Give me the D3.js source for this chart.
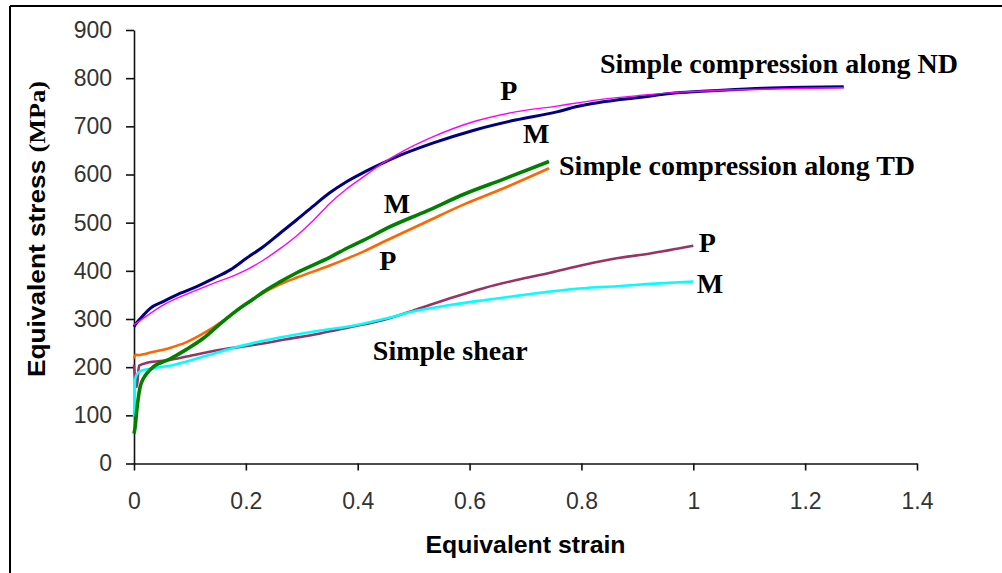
<!DOCTYPE html>
<html>
<head>
<meta charset="utf-8">
<script src="https://cdn.jsdelivr.net/npm/d3@7"></script>
<style>
  body { margin: 0; background: #fff; }
  svg { display: block; }
</style>
</head>
<body>
<div id="chart"></div>
<script>
// strain / stress pairs
const ndM = [[0,284],[0.004,291],[0.017,308],[0.029,322],[0.052,336],[0.082,353],[0.112,367],[0.142,384],[0.172,402],[0.201,426],[0.231,450],[0.261,478],[0.291,506],[0.321,535],[0.350,562],[0.380,585],[0.410,604],[0.440,621],[0.464,634],[0.534,665],[0.608,692],[0.682,713],[0.756,730],[0.792,741],[0.829,749],[0.903,760],[0.977,770],[1.051,775],[1.125,779],[1.199,781],[1.269,782]];
const ndP = [[0,288],[0.005,292],[0.052,329],[0.112,360],[0.142,374],[0.172,387],[0.201,402],[0.231,422],[0.261,446],[0.291,473],[0.321,505],[0.350,540],[0.380,570],[0.410,595],[0.440,620],[0.482,649],[0.534,678],[0.608,710],[0.682,730],[0.756,742],[0.829,755],[0.903,764],[0.977,771],[1.051,775],[1.125,777],[1.199,779],[1.269,780]];
const tdM = [[0,62],[0.002,75],[0.005,111],[0.008,139],[0.011,159],[0.017,177],[0.023,187],[0.035,201],[0.064,217],[0.094,237],[0.124,260],[0.154,290],[0.184,318],[0.214,342],[0.231,356],[0.261,377],[0.291,396],[0.35,428],[0.386,450],[0.41,463],[0.455,490],[0.523,524],[0.592,560],[0.66,590],[0.742,627]];
const tdP = [[0,218],[0.003,226],[0.006,225],[0.035,232],[0.064,240],[0.094,252],[0.124,270],[0.154,292],[0.184,318],[0.219,346],[0.261,372],[0.291,386],[0.35,411],[0.386,428],[0.41,440],[0.455,465],[0.523,502],[0.592,539],[0.66,571],[0.742,613]];
const shP = [[0,205],[0.002,175],[0.005,159],[0.009,203],[0.023,209],[0.064,215],[0.094,222],[0.154,236],[0.213,246],[0.273,258],[0.333,270],[0.386,283],[0.446,298],[0.505,320],[0.565,343],[0.625,364],[0.684,381],[0.744,396],[0.803,412],[0.863,426],[0.923,436],[1.0,452]];
const shM = [[0,97],[0.001,140],[0.002,175],[0.005,185],[0.012,192],[0.035,198],[0.064,203],[0.094,212],[0.124,222],[0.154,232],[0.184,242],[0.213,250],[0.273,264],[0.333,276],[0.386,285],[0.446,300],[0.505,317],[0.565,329],[0.625,339],[0.684,348],[0.744,357],[0.803,364],[0.863,368],[0.923,373],[1.0,378]];

const xTicks = [0,0.2,0.4,0.6,0.8,1,1.2,1.4];
const yTicks = [0,100,200,300,400,500,600,700,800,900];

// annotation text with anchor point in data units
const notes = [
  {t:"Simple compression along ND", x:0.833, y:811, a:"start"},
  {t:"P", x:0.670, y:755, a:"middle"},
  {t:"M", x:0.719, y:665, a:"middle"},
  {t:"Simple compression along TD", x:0.760, y:599, a:"start"},
  {t:"M", x:0.470, y:520, a:"middle"},
  {t:"P", x:0.454, y:402, a:"middle"},
  {t:"P", x:1.025, y:439, a:"middle"},
  {t:"M", x:1.030, y:354, a:"middle"},
  {t:"Simple shear", x:0.427, y:215, a:"start"}
];

const W = 1002, H = 573;
const svg = d3.select("#chart").append("svg").attr("width", W).attr("height", H);

// frame (only left and top edges show)
svg.append("line").attr("x1",10).attr("y1",6).attr("x2",W).attr("y2",6).attr("stroke","#000").attr("stroke-width",2);
svg.append("line").attr("x1",10).attr("y1",6).attr("x2",10).attr("y2",H).attr("stroke","#000").attr("stroke-width",2);

const x = d3.scaleLinear().domain([0,1.4]).range([134,917]);
const y = d3.scaleLinear().domain([0,900]).range([463.5,30]);

const yAxis = svg.append("g").attr("transform","translate(134,0)")
  .call(d3.axisLeft(y).tickValues(yTicks).tickSize(8).tickSizeOuter(0).tickPadding(14));
const xAxis = svg.append("g").attr("transform","translate(0,463.5)")
  .call(d3.axisBottom(x).tickValues(xTicks).tickSize(7).tickSizeOuter(0).tickPadding(22).tickFormat(d3.format("")));

[yAxis, xAxis].forEach(g => {
  g.select(".domain").attr("stroke","#111").attr("stroke-width",1.6);
  g.selectAll(".tick line").attr("stroke","#111").attr("stroke-width",1.6);
  g.selectAll(".tick text")
    .attr("font-family","'Liberation Sans', Arial, sans-serif")
    .attr("font-size",23)
    .attr("fill","#333");
});

const line = d3.line().x(d => x(d[0])).y(d => y(d[1])).curve(d3.curveMonotoneX);

const series = [
  {d:shP, c:"#993366", w:2.6},
  {d:shM, c:"#00FFFF", w:2.6},
  {d:tdP, c:"#FF6600", w:2.6},
  {d:tdM, c:"#008000", w:3.6},
  {d:ndM, c:"#000080", w:3},
  {d:ndP, c:"#FF00FF", w:1.4}
];
svg.append("g").selectAll("path").data(series).join("path")
  .attr("d", s => line(s.d))
  .attr("fill","none")
  .attr("stroke", s => s.c)
  .attr("stroke-width", s => s.w);

svg.append("g").selectAll("text").data(notes).join("text")
  .attr("x", d => x(d.x))
  .attr("y", d => y(d.y))
  .attr("text-anchor", d => d.a)
  .attr("font-family","'Liberation Serif', 'Times New Roman', serif")
  .attr("font-weight","bold")
  .attr("font-size",28)
  .attr("fill","#000")
  .text(d => d.t);

// axis titles
svg.append("text")
  .attr("x", x(0.7)).attr("y", 553)
  .attr("text-anchor","middle")
  .attr("font-family","'Liberation Sans', Arial, sans-serif")
  .attr("font-weight","bold").attr("font-size",24)
  .attr("textLength",200).attr("lengthAdjust","spacingAndGlyphs")
  .text("Equivalent strain");

const yt = svg.append("text")
  .attr("transform","translate(45,229) rotate(-90)")
  .attr("text-anchor","middle")
  .attr("font-weight","bold").attr("font-size",24)
  .attr("textLength",296).attr("lengthAdjust","spacingAndGlyphs")
  .attr("font-family","'Liberation Sans', Arial, sans-serif");
yt.append("tspan").text("Equivalent stress ");
yt.append("tspan").attr("font-family","'Liberation Serif', 'Times New Roman', serif").text("(MPa)");
</script>
</body>
</html>
